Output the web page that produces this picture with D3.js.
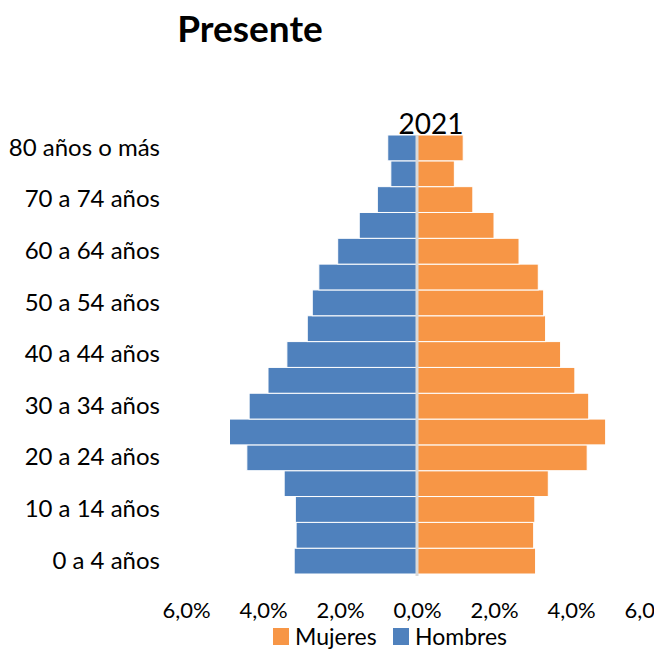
<!DOCTYPE html>
<html>
<head>
<meta charset="utf-8">
<script src="https://cdn.jsdelivr.net/npm/d3@7"></script>
<style>
  body { margin: 0; background: #fff; }
  text { font-family: Lato, "Noto Sans", sans-serif; fill: #000; }
</style>
</head>
<body>
<div id="chart"></div>
<script>
// age groups, bottom to top
var ages = ["0 a 4 años", "5 a 9 años", "10 a 14 años", "15 a 19 años", "20 a 24 años",
    "25 a 29 años", "30 a 34 años", "35 a 39 años", "40 a 44 años", "45 a 49 años",
    "50 a 54 años", "55 a 59 años", "60 a 64 años", "65 a 69 años", "70 a 74 años",
    "75 a 79 años", "80 años o más"];

// % of population
var hombres = [3.19, 3.14, 3.16, 3.45, 4.42, 4.87, 4.36, 3.87, 3.38, 2.85,
    2.72, 2.55, 2.06, 1.50, 1.03, 0.68, 0.76];
var mujeres = [3.08, 3.03, 3.06, 3.41, 4.42, 4.90, 4.46, 4.10, 3.73, 3.34,
    3.29, 3.15, 2.65, 2.00, 1.45, 0.97, 1.20];

var xTicks = [-6, -4, -2, 0, 2, 4, 6];
var shownAges = ["0 a 4 años", "10 a 14 años", "20 a 24 años", "30 a 34 años", "40 a 44 años",
    "50 a 54 años", "60 a 64 años", "70 a 74 años", "80 años o más"];

var width = 654, height = 651;

var svg = d3.select("#chart").append("svg")
    .attr("width", width)
    .attr("height", height);

var x = d3.scaleLinear()
    .domain([-6, 6])
    .range([186, 648]);

var y = d3.scaleBand()
    .domain(ages.slice().reverse())
    .range([135, 574])
    .padding(0);

var data = ages.map(function(a, i) {
    return {age: a, h: hombres[i], m: mujeres[i]};
});

// title
svg.append("text")
    .attr("x", 250)
    .attr("y", 42)
    .attr("text-anchor", "middle")
    .style("font-size", "37px")
    .style("font-weight", "bold")
    .text("Presente");

svg.append("text")
    .attr("x", 431)
    .attr("y", 134)
    .attr("text-anchor", "middle")
    .style("font-size", "28px")
    .text("2021");

// bars
svg.selectAll("rect.hombres")
    .data(data)
    .enter()
    .append("rect")
    .attr("class", "hombres")
    .attr("fill", "#4F81BD")
    .attr("stroke", "#fff")
    .attr("stroke-width", 1)
    .attr("x", function(d) { return x(-d.h); })
    .attr("y", function(d) { return y(d.age); })
    .attr("width", function(d) { return x(0) - x(-d.h); })
    .attr("height", y.bandwidth());

svg.selectAll("rect.mujeres")
    .data(data)
    .enter()
    .append("rect")
    .attr("class", "mujeres")
    .attr("fill", "#F79646")
    .attr("stroke", "#fff")
    .attr("stroke-width", 1)
    .attr("x", x(0))
    .attr("y", function(d) { return y(d.age); })
    .attr("width", function(d) { return x(d.m) - x(0); })
    .attr("height", y.bandwidth());

// zero line
svg.append("line")
    .attr("x1", x(0))
    .attr("x2", x(0))
    .attr("y1", 135)
    .attr("y2", 576)
    .attr("stroke", "#d9d9d9")
    .attr("stroke-width", 3);

// axes
var fmt = function(d) { return Math.abs(d).toFixed(1).replace(".", ",") + "%"; };

var xAxis = svg.append("g")
    .attr("transform", "translate(0,599)")
    .call(d3.axisBottom(x).tickValues(xTicks).tickFormat(fmt).tickSize(0));
xAxis.select(".domain").remove();
xAxis.selectAll("text")
    .style("font-size", "22px")
    .style("font-family", "Lato, sans-serif")
    .attr("fill", "#000");

var yAxis = svg.append("g")
    .attr("transform", "translate(160,0)")
    .call(d3.axisLeft(y).tickValues(shownAges).tickSize(0));
yAxis.select(".domain").remove();
yAxis.selectAll("text")
    .style("font-size", "24px")
    .style("font-family", "Lato, sans-serif")
    .attr("fill", "#000")
    .attr("x", 0);

// legend
var legend = [{name: "Mujeres", color: "#F79646", x: 273},
              {name: "Hombres", color: "#4F81BD", x: 393}];

var lg = svg.selectAll("g.legend")
    .data(legend)
    .enter()
    .append("g")
    .attr("class", "legend")
    .attr("transform", function(d) { return "translate(" + d.x + ",628)"; });

lg.append("rect")
    .attr("width", 16)
    .attr("height", 17)
    .attr("fill", function(d) { return d.color; });

lg.append("text")
    .attr("x", 22)
    .attr("y", 17)
    .style("font-size", "23px")
    .text(function(d) { return d.name; });
</script>
</body>
</html>
